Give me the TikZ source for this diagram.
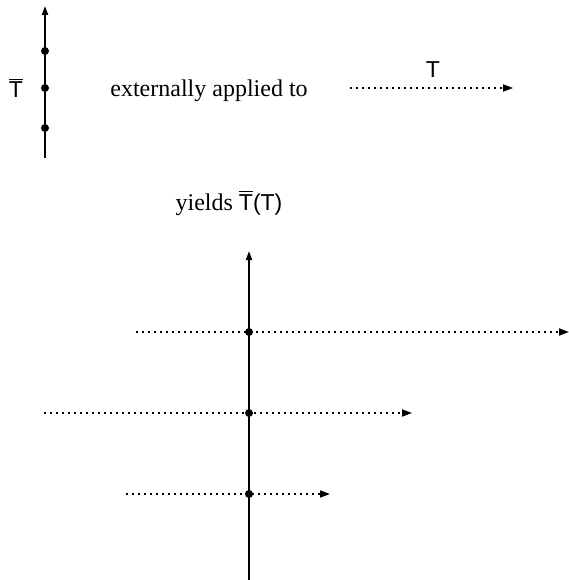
\documentclass[tikz,border=0pt]{standalone}
\usepackage{fontspec}
\setmainfont{Liberation Serif}
\setsansfont{Liberation Sans}
\usetikzlibrary{arrows.meta}
\newcommand\tbarsym{\hbox{\vbox{\hrule height 1.5pt\kern 1.8pt\hbox{T}}}}
\begin{document}
\begin{tikzpicture}[x=1pt,y=-1pt,
  axisline/.style={line width=2pt,-{Triangle[length=9pt,width=6pt]}},
  dotline/.style={line width=1.7pt,dash pattern=on 1.7pt off 4.3pt,-{Triangle[length=10pt,width=7pt]}},
  pointdot/.style={circle,fill=black,inner sep=0pt,minimum size=8pt},
  serifl/.style={font=\fontsize{24}{28}\selectfont\rmfamily,inner sep=0pt,anchor=base},
  sansl/.style={font=\fontsize{23}{27}\selectfont\sffamily,inner sep=0pt,anchor=base}]
\useasboundingbox (0,0) rectangle (569,580);
% top part
\coordinate (ab) at (45,158);
\coordinate (at) at (45,6);
\draw[axisline] (ab) -- (at);
\node[pointdot] (p1) at (45,51) {};
\node[pointdot] (p2) at (45,88) {};
\node[pointdot] (p3) at (45,128) {};
\node[sansl] (tbl) at (16,98) {\tbarsym};
\node[serifl] (ext) at (209,97) {externally applied to};
\coordinate (ts) at (350,88);
\coordinate (te) at (513,88);
\draw[dotline] (ts) -- (te);
\node[sansl] (tl) at (433,78) {T};
% yields
\node[serifl] (yl) at (229,210) {yields \sffamily\fontsize{23}{27}\selectfont\tbarsym(T)};
% bottom part
\coordinate (bb) at (249,580);
\coordinate (bt) at (249,251);
\draw[axisline] (bb) -- (bt);
\coordinate (s1) at (136,332);
\coordinate (e1) at (569,332);
\coordinate (s2) at (44,413);
\coordinate (e2) at (412,413);
\coordinate (s3) at (126,494);
\coordinate (e3) at (330,494);
\draw[dotline] (s1) -- (e1);
\draw[dotline] (s2) -- (e2);
\draw[dotline] (s3) -- (e3);
\node[pointdot] (q1) at (249,332) {};
\node[pointdot] (q2) at (249,413) {};
\node[pointdot] (q3) at (249,494) {};
\end{tikzpicture}
\end{document}
